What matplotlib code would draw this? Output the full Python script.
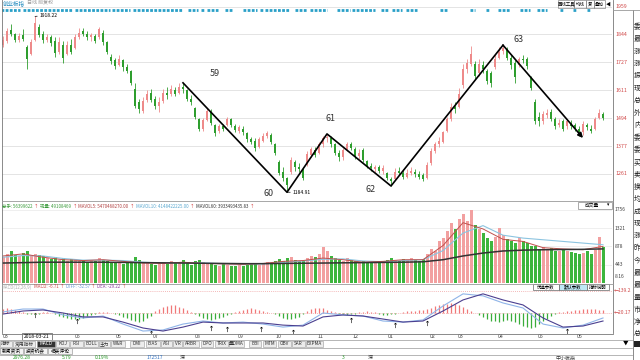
import numpy as np
import matplotlib.pyplot as plt
from matplotlib.lines import Line2D
from matplotlib.patches import Rectangle

plt.rcParams['font.family'] = ['Noto Sans CJK SC', 'DejaVu Sans']

# ---- 日线数据（按图估读，每根约两个交易日） ----
k_open = [1800, 1815, 1860, 1845, 1820, 1840, 1790, 1760, 1820, 1875,
          1845, 1820, 1830, 1815, 1770, 1800, 1760, 1800, 1785, 1830,
          1855, 1845, 1830, 1835, 1830, 1850, 1810, 1750, 1735, 1715,
          1735, 1705, 1690, 1615, 1560, 1525, 1570, 1600, 1575, 1545,
          1565, 1600, 1595, 1610, 1600, 1625, 1610, 1575, 1535, 1490,
          1450, 1485, 1520, 1465, 1440, 1460, 1465, 1490, 1460, 1440,
          1450, 1430, 1405, 1400, 1375, 1400, 1420, 1425, 1385, 1310,
          1270, 1245, 1270, 1310, 1290, 1280, 1300, 1340, 1360, 1350,
          1385, 1410, 1410, 1385, 1350, 1330, 1365, 1385, 1365, 1335,
          1360, 1315, 1295, 1280, 1290, 1275, 1265, 1240, 1240, 1275,
          1265, 1250, 1265, 1270, 1260, 1255, 1245, 1305, 1355, 1385,
          1395, 1440, 1490, 1540, 1540, 1630, 1700, 1720, 1720, 1680,
          1715, 1690, 1680, 1705, 1745, 1775, 1780, 1745, 1725, 1715,
          1740, 1740, 1660, 1560, 1500, 1480, 1505, 1520, 1490, 1465,
          1480, 1460, 1475, 1465, 1450, 1435, 1465, 1450, 1450, 1495,
          1510]
k_close = [1820, 1855, 1845, 1820, 1835, 1825, 1740, 1810, 1890, 1840,
           1820, 1830, 1805, 1765, 1810, 1745, 1800, 1770, 1830, 1850,
           1845, 1830, 1840, 1815, 1865, 1810, 1770, 1730, 1710, 1740,
           1705, 1690, 1640, 1545, 1530, 1565, 1595, 1570, 1545, 1560,
           1600, 1590, 1615, 1595, 1625, 1615, 1575, 1560, 1500, 1450,
           1485, 1525, 1475, 1430, 1460, 1450, 1490, 1465, 1445, 1455,
           1435, 1405, 1395, 1370, 1405, 1420, 1430, 1395, 1350, 1265,
           1245, 1215, 1320, 1290, 1280, 1245, 1345, 1365, 1340, 1385,
           1410, 1415, 1385, 1350, 1330, 1360, 1385, 1370, 1335, 1350,
           1320, 1295, 1285, 1290, 1275, 1285, 1245, 1230, 1270, 1265,
           1250, 1265, 1275, 1260, 1250, 1240, 1300, 1355, 1385, 1400,
           1435, 1490, 1540, 1530, 1595, 1700, 1725, 1760, 1670, 1720,
           1700, 1650, 1640, 1740, 1770, 1785, 1745, 1715, 1665, 1740,
           1735, 1710, 1620, 1480, 1480, 1510, 1515, 1490, 1460, 1475,
           1450, 1480, 1460, 1450, 1430, 1470, 1455, 1440, 1490, 1515,
           1495]
k_high = [1835, 1870, 1885, 1850, 1850, 1865, 1800, 1825, 1918, 1885,
          1855, 1845, 1840, 1830, 1830, 1815, 1815, 1825, 1845, 1870,
          1870, 1855, 1850, 1845, 1875, 1860, 1815, 1760, 1745, 1755,
          1740, 1720, 1695, 1640, 1575, 1580, 1610, 1615, 1585, 1580,
          1615, 1625, 1630, 1625, 1640, 1642, 1615, 1590, 1540, 1495,
          1495, 1535, 1530, 1470, 1470, 1470, 1500, 1495, 1470, 1465,
          1460, 1435, 1415, 1410, 1415, 1430, 1440, 1430, 1390, 1320,
          1290, 1250, 1330, 1320, 1305, 1290, 1355, 1375, 1375, 1395,
          1420, 1428, 1420, 1390, 1360, 1370, 1395, 1395, 1375, 1365,
          1370, 1320, 1305, 1300, 1300, 1300, 1270, 1250, 1285, 1290,
          1280, 1280, 1290, 1280, 1275, 1265, 1310, 1370, 1395, 1415,
          1440, 1500, 1555, 1560, 1620, 1720, 1740, 1795, 1730, 1740,
          1730, 1700, 1690, 1760, 1790, 1800, 1790, 1755, 1735, 1750,
          1755, 1750, 1670, 1575, 1520, 1525, 1530, 1530, 1500, 1490,
          1490, 1490, 1485, 1475, 1460, 1480, 1475, 1465, 1500, 1530,
          1520]
k_low = [1790, 1805, 1835, 1810, 1812, 1815, 1700, 1755, 1815, 1830,
         1805, 1810, 1795, 1750, 1760, 1725, 1755, 1760, 1780, 1825,
         1835, 1820, 1815, 1805, 1825, 1800, 1760, 1720, 1700, 1710,
         1690, 1680, 1630, 1535, 1515, 1515, 1560, 1560, 1530, 1520,
         1555, 1575, 1585, 1585, 1595, 1600, 1565, 1550, 1490, 1440,
         1440, 1480, 1465, 1420, 1430, 1440, 1460, 1455, 1435, 1430,
         1425, 1395, 1385, 1355, 1370, 1395, 1410, 1385, 1340, 1255,
         1230, 1185, 1260, 1275, 1270, 1235, 1295, 1330, 1330, 1345,
         1375, 1395, 1375, 1340, 1315, 1320, 1355, 1360, 1325, 1325,
         1310, 1285, 1275, 1270, 1265, 1260, 1235, 1212, 1235, 1255,
         1240, 1245, 1255, 1250, 1240, 1232, 1240, 1300, 1350, 1375,
         1390, 1435, 1480, 1515, 1535, 1620, 1680, 1710, 1655, 1670,
         1680, 1635, 1625, 1700, 1740, 1760, 1735, 1700, 1640, 1705,
         1725, 1700, 1610, 1470, 1460, 1470, 1495, 1480, 1450, 1455,
         1440, 1450, 1450, 1440, 1420, 1425, 1445, 1430, 1445, 1490,
         1485]

volume = [620, 700, 760, 680, 640, 720, 780, 650, 700, 680,
          640, 600, 580, 620, 560, 600, 540, 580, 560, 520,
          540, 500, 560, 520, 600, 560, 520, 480, 500, 470,
          460, 500, 540, 620, 560, 480, 500, 460, 440, 480,
          500, 460, 520, 480, 500, 560, 480, 440, 520, 560,
          500, 480, 460, 440, 420, 460, 440, 420, 400, 430,
          420, 440, 460, 480, 440, 460, 500, 480, 520, 580,
          540, 600, 620, 560, 520, 540, 600, 640, 620, 700,
          870, 760, 640, 600, 560, 540, 600, 560, 520, 500,
          520, 480, 500, 540, 500, 520, 560, 600, 560, 540,
          580, 560, 600, 560, 540, 580, 700, 820, 760, 1000,
          1080, 1250, 1450, 1300, 1550, 1650, 1500, 1756, 1400, 1300,
          1200, 1080, 1000, 1100, 1320, 1150, 1060, 1000, 950, 1080,
          1000, 960, 900, 880, 820, 860, 800, 840, 780, 760,
          800, 760, 740, 720, 700, 720, 760, 700, 800, 1100,
          860]

# 均量线，每 5 根取一点
mavol5 = [650, 700, 620, 560, 540, 560, 520, 480, 470, 500, 470, 460, 450, 470, 520, 540,
          600, 560, 500, 520, 560, 560, 900, 1450, 1300, 1050, 1000, 850, 820, 800, 880]
mavol10 = [620, 660, 650, 590, 550, 550, 540, 500, 480, 490, 485, 465, 455, 460, 495, 530,
           570, 580, 530, 510, 540, 560, 780, 1200, 1380, 1150, 1080, 1040, 1000, 960, 920]
mavol60 = [480, 490, 500, 500, 500, 500, 495, 490, 485, 480, 475, 470, 465, 465, 470, 475,
           480, 485, 490, 495, 500, 510, 560, 650, 720, 770, 790, 800, 805, 810, 820]

# MACD
diff = [7, 26, 26, -13, -33, -20, -73, -119, -112, -73, -53, -66, -60, -73, -93, -80,
        0, -13, -20, -53, -60, -46, 46, 126, 113, 66, 33, -73, -99, -80, -33]
dea = [-7, 13, 20, 0, -26, -26, -60, -99, -119, -93, -60, -66, -66, -66, -80, -86,
       -26, -13, -20, -40, -60, -53, 13, 86, 126, 86, 53, -33, -93, -86, -53]
macd_hist = [25, 30, 28, 22, 15, 8, -5, -10, -8, -4, 4, 6, 3,
             -10, -20, -28, -35, -40, -42, -38, -30, -22, -14, -6,
             4, 8, 6, 2, -6, -14, -24, -34, -44, -55, -60, -50, -35, -18,
             10, 25, 38, 48, 52, 50, 42, 32, 20, 8, -6, -18,
             -30, -40, -45, -42, -35, -25, -15, -6, 6, 14, 22, 28, 30, 26,
             20, 14, 8, 2, -6, -18, -30, -38, -40, -34, -24,
             -8, 10, 24, 32, 34, 30, 22, 12, 4, -6, -10, -12, -8, -4,
             4, 8, 10, 8, 4, -6, -12, -14, -10, -6, -2,
             4, 10, 14, 16, 18, 20, 28, 36, 44, 52, 58, 62, 66, 62, 52, 40, 26, 12, 0,
             -14, -28, -40, -50, -55, -58, -55, -48, -52, -62, -75, -88, -95, -100, -90, -75,
             -55, -38, -22, -10, 4, 8, 12, 16, 20, 22, 24, 25, 26, 24, 22, 22]
buy_idx = [8, 18.5, 37, 52, 56, 64.5, 72.5, 87, 98, 106, 141]
buy_val = [0, -40, -119, -86, -92, -92, -112, -33, -66, -53, -106]
sell_idx = [5.5, 10, 25, 52, 61, 68, 83.5, 89, 105.75, 118]
sell_val = [26, 33, 0, -60, -53, -46, 0, -7, -26, 132]

# 波浪划线
wave_idx = [45, 71, 81, 97, 125, 145]
wave_val = [1641, 1185, 1428, 1211, 1798, 1411]
wave_labels = ['59', '60', '61', '62', '63']

# 信息地雷
news_start = [-0.5, 5, 18, 27.25, 32.5, 46.25, 50, 51, 55.5, 60, 64.75, 65.5, 73, 76.75, 83.5,
              87.25, 95, 96, 97.25, 100.75, 109.25, 116.75, 121.25, 123.75, 129.25, 133.5,
              139.75, 143, 146]
news_end = [4.25, 17.5, 26.75, 31.75, 45, 48.75, 50, 53.75, 57.25, 63.5, 64.75, 71.75, 76, 81, 86.75,
            93, 95, 96, 99.75, 103.5, 111, 118, 121.25, 126.75, 131.75, 136, 139.75, 143, 146.75]

price_ticks = [1959, 1844, 1727, 1611, 1494, 1377, 1261]
vol_ticks = [1756, 1321, 878, 443]
month_labels = ['03', '05', '06', '07', '08', '09', '10', '11', '12', '01', '02', '03', '04', '05', '06']
month_pos = [0, 18, 28.25, 37.5, 48, 58.75, 68, 78.5, 87.25, 96.25, 106.75, 113.75, 123.75, 133.75, 143.5]

RED = '#ee8a8a'
GREEN = '#2e9e2e'
VRED = '#f2a0a0'
VGREEN = '#3db53d'

W, H = 640, 360


def box(x0, y0, x1, y1):
    return [x0 / W, 1 - y1 / H, (x1 - x0) / W, (y1 - y0) / H]


def ftext(x, y, s, **kw):
    kw.setdefault('fontsize', 3.8)
    kw.setdefault('va', 'center')
    return fig.text(x / W, 1 - y / H, s, **kw)


def fline(x0, y0, x1, y1, color='#888888', lw=0.6):
    fig.add_artist(Line2D([x0 / W, x1 / W], [1 - y0 / H, 1 - y1 / H], color=color, lw=lw))


def text_row(x, y, parts, size=3.2, gap=1.5):
    # 依次排放几段不同颜色的文字
    rend = fig.canvas.get_renderer()
    for txt, col in parts:
        t = ftext(x, y, txt, color=col, fontsize=size)
        x = t.get_window_extent(rend).x1 + gap


fig = plt.figure(figsize=(6.4, 3.6), dpi=100)
fig.patch.set_facecolor('white')

o = np.array(k_open, float)
c = np.array(k_close, float)
idx = np.arange(len(c))
up = c >= o
kcol = [RED if u else GREEN for u in up]
XL = (-0.25, 152.25)


def clean(ax):
    ax.set_xlim(*XL)
    ax.set_xticks([])
    ax.set_yticks([])
    for s in ax.spines.values():
        s.set_visible(False)
    ax.patch.set_alpha(0)


# ---- 主图 ----
ax = fig.add_axes(box(2, 3, 612, 200))
clean(ax)
ax.set_ylim(1152.6, 1973.7)
for p in price_ticks:
    ax.axhline(p, color='#e4e4e4', lw=0.7, zorder=0)
    ax.text(1.005, p, str(p), transform=ax.get_yaxis_transform(), fontsize=3.8,
            color='#d04848', va='center', ha='left', clip_on=False)
ax.vlines(idx, k_low, k_high, colors=kcol, lw=0.6)
ax.bar(idx, np.maximum(np.abs(c - o), 3), bottom=np.minimum(o, c), width=0.55, color=kcol, lw=0)

for s, e in zip(news_start, news_end):
    if e - s < 0.5:
        s, e = s - 0.4, e + 0.4
    ax.plot([s, e], [0.964, 0.964], transform=ax.get_xaxis_transform(), color='#2aa0c8',
            lw=2.0, ls=(0, (1, 0.5)), solid_capstyle='butt')

ax.plot(wave_idx[:-1], wave_val[:-1], color='black', lw=1.2)
ax.annotate('', xy=(wave_idx[-1], wave_val[-1]), xytext=(wave_idx[-2], wave_val[-2]),
            arrowprops=dict(arrowstyle='-|>', color='black', lw=1.2, mutation_scale=7,
                            shrinkA=0, shrinkB=0))
label_off = [(32, 9), (-18, -1), (3, 15), (-20, -4), (16, 6)]
for lab, xi, yv, off in zip(wave_labels, wave_idx, wave_val, label_off):
    ax.annotate(lab, (xi, yv), xytext=off, textcoords='offset pixels', fontsize=6.5,
                color='#333333', ha='center', va='center')

ax.annotate('1184.91', (wave_idx[1], min(k_low)), xytext=(6, 0), textcoords='offset pixels',
            fontsize=3.6, va='center', ha='left',
            arrowprops=dict(arrowstyle='-', color='black', lw=0.5, shrinkA=0, shrinkB=0))
ax.annotate('1918.22', (8, max(k_high)), xytext=(5, 1), textcoords='offset pixels',
            fontsize=3.6, va='center', ha='left',
            arrowprops=dict(arrowstyle='-', color='black', lw=0.5, shrinkA=0, shrinkB=0))

ftext(3, 3.5, '创业板指', color='#2a8fc0', fontsize=4)
ftext(27, 3.5, '日线 前复权', color='#9a9a9a', fontsize=3.6)
for lab, x0, x1 in [('画线工具', 558, 574), ('均线', 574, 586), ('复', 586, 594), ('叠加', 594, 605)]:
    fig.add_artist(Rectangle((x0 / W, 1 - 7.5 / H), (x1 - x0) / W, 7 / H, transform=fig.transFigure,
                             fill=False, ec='#888888', lw=0.5))
    ftext((x0 + x1) / 2, 4, lab, ha='center', fontsize=3.2)
ftext(608, 4, '◀', fontsize=3.5, ha='center')

# ---- 成交量 ----
axv = fig.add_axes(box(2, 202, 612, 283))
clean(axv)
axv.set_ylim(0, 1948)
for v in vol_ticks:
    axv.axhline(v, color='#ececec', lw=0.6, zorder=0)
    axv.text(1.005, v, str(v), transform=axv.get_yaxis_transform(), fontsize=3.6,
             color='#444444', va='center', ha='left', clip_on=False)
axv.text(1.005, 150, '8.16', transform=axv.get_yaxis_transform(), fontsize=3.6,
         color='#444444', va='center', ha='left', clip_on=False)
axv.bar(idx, volume, width=0.75, color=[VRED if u else VGREEN for u in up], lw=0)
midx = idx[::5]
axv.plot(midx, mavol10, color='#8cc4e0', lw=0.8)
axv.plot(midx, mavol5, color='#c0504d', lw=0.7)
axv.plot(midx, mavol60, color='#333333', lw=1.1)

text_row(2, 206, [('总手: 56399622', '#3a9a3a'), ('↑', '#d03030'), ('现量: 49108469', '#3a9a3a'),
                  ('↑', '#d03030'), ('MAVOL5: 5470468270.00', '#b04040'), ('↑', '#d03030'),
                  ('MAVOL10: 4148422225.00', '#5aa8d0'), ('↑', '#d03030'),
                  ('MAVOL60: 3933493435.83', '#333333'), ('↑', '#d03030')])
fig.add_artist(Rectangle((578 / W, 1 - 208.5 / H), 34 / W, 6.5 / H, transform=fig.transFigure,
                         fill=True, fc='white', ec='#888888', lw=0.5))
ftext(592, 205, '成交量', fontsize=3.4, ha='center')
ftext(608, 205, '▾', fontsize=3.4, ha='center')

# ---- MACD ----
axm = fig.add_axes(box(2, 284, 612, 333))
clean(axm)
axm.set_ylim(-132, 191)
axm.axhline(145, color='#f0a0a0', lw=0.6, ls=(0, (1, 1.5)))
axm.axhline(0, color='#f0a0a0', lw=0.6, ls=(0, (1, 1.5)))
hist = np.array(macd_hist, float)
axm.vlines(idx, 0, hist, colors=['#f07878' if h >= 0 else '#3aad3a' for h in hist], lw=0.9)
axm.plot(midx, diff, color='#8fb4e8', lw=0.8)
axm.plot(midx, dea, color='#4b3f8f', lw=0.8)
axm.scatter(buy_idx, np.array(buy_val) - 12, marker=r'$\uparrow$', s=14, color='black', lw=0)
axm.scatter(sell_idx, np.array(sell_val) + 10, marker=r'$\ddagger$', s=12, color='#1f7a1f', lw=0)
axm.text(1.003, 145, '←139.2', transform=axm.get_yaxis_transform(), fontsize=3.6,
         color='#d04848', va='center', ha='left', clip_on=False)
axm.text(1.003, 0, '←20.17', transform=axm.get_yaxis_transform(), fontsize=3.6,
         color='#d04848', va='center', ha='left', clip_on=False)
text_row(2, 287, [('MACD(12,26,9)', '#b0b0b0'), ('MACD: -6.71', '#d04848'), ('↑', '#d03030'),
                  ('DIFF: -32.57', '#6a9ad8'), ('↑', '#d03030'), ('DEA: -29.22', '#9040a0'),
                  ('↑', '#d03030')])
for lab, x0, x1, fc in [('优选参数', 533, 559, 'white'), ('默认参数', 559, 587, '#bfe8f5'),
                        ('指标说明', 587, 609, 'white')]:
    fig.add_artist(Rectangle((x0 / W, 1 - 290 / H), (x1 - x0) / W, 6 / H, transform=fig.transFigure,
                             fc=fc, ec='#666666', lw=0.5))
    ftext((x0 + x1) / 2, 287, lab, ha='center', fontsize=3.2)

for lab, pos in zip(month_labels, month_pos):
    axm.text(pos, -0.065, lab, transform=axm.get_xaxis_transform(), fontsize=3.8,
             color='#444444', ha='left', va='center', clip_on=False)
fig.add_artist(Rectangle((22 / W, 1 - 340 / H), 30 / W, 7 / H, transform=fig.transFigure,
                         fc='white', ec='#555555', lw=0.5))
ftext(37, 336.5, '2018-03-21', ha='center', fontsize=3.6)

# ---- 边框线 ----
fline(2, 0, 2, 333, '#777777')
fline(612.5, 0, 612.5, 333, '#777777')
fline(632.5, 10, 632.5, 360, '#777777')
fline(2, 200.5, 612.5, 200.5, '#999999')
fline(2, 283.5, 612.5, 283.5, '#999999')
fline(2, 333.5, 612.5, 333.5, '#777777')
fline(612.5, 10, 640, 10, '#999999')
fline(0, 340, 632, 340, '#aaaaaa')
fline(0, 347.5, 632, 347.5, '#aaaaaa')
fline(0, 354.5, 632, 354.5, '#aaaaaa')

# ---- 指标栏 ----
tab_labels = ['指标', '常用指标', 'MACD', 'KDJ', 'RSI', 'BOLL', '主力', 'W&R', 'DMI', 'BIAS', 'ASI',
              'VR', 'ARBR', 'DPO', 'TRIX', '量DMA', 'BBI', 'MTM', 'OBV', 'SAR', 'EXPMA']
tab_x = [0, 13, 37, 56, 70, 84, 99, 111, 130, 146, 161, 173, 183, 201, 215, 229, 249, 263, 278, 292, 306]
tab_w = [12, 22, 18, 13, 13, 14, 11, 14, 14, 14, 11, 9, 16, 12, 13, 15, 12, 13, 13, 13, 17]
for lab, x0, w in zip(tab_labels, tab_x, tab_w):
    sel = lab == 'MACD'
    fig.add_artist(Rectangle((x0 / W, 1 - 347 / H), w / W, 6.5 / H, transform=fig.transFigure,
                             fc='#333333' if sel else '#ececec', ec='#999999', lw=0.4))
    ftext(x0 + w / 2, 343.7, lab, ha='center', fontsize=3.4, color='white' if sel else '#333333')
ftext(626, 343.5, '▼', ha='center', fontsize=4)
fig.add_artist(Rectangle((634 / W, 1 - 347 / H), 6 / W, 6 / H, transform=fig.transFigure,
                         fc='#222222', ec='none'))

for lab, x0, x1 in [('新闻资讯', 0, 23), ('投资机会', 24, 47), ('相关评论', 48, 72)]:
    fig.add_artist(Rectangle((x0 / W, 1 - 354 / H), (x1 - x0) / W, 6 / H, transform=fig.transFigure,
                             fc='#f4f4f4', ec='#888888', lw=0.4))
    ftext((x0 + x1) / 2, 351, lab, ha='center', fontsize=3.4)

for txt, x, col in [('2976.28', 13, '#2a9a2a'), ('5.79', 62, '#2a9a2a'), ('0.19%', 95, '#2a9a2a'),
                    ('172517', 147, '#3070c0'), ('深', 180, '#333333'), ('3', 342, '#2a9a2a'),
                    ('深', 368, '#333333'), ('中小板指', 555, '#333333')]:
    ftext(x, 357.3, txt, color=col, fontsize=3.6)

# ---- 右侧行情栏 ----
side_chars = ['委', '最', '涨', '涨', '振', '现', '总', '外', '内', '委', '委', '买', '卖', '换',
              '均', '成', '现', '涨', '昨', '今', '最', '最', '量', '市', '净', '总']
for k, ch in enumerate(side_chars):
    ftext(634, 27 + k * 12.3, ch, fontsize=5, color='#222222')

fig.savefig('out.png', dpi=100)
